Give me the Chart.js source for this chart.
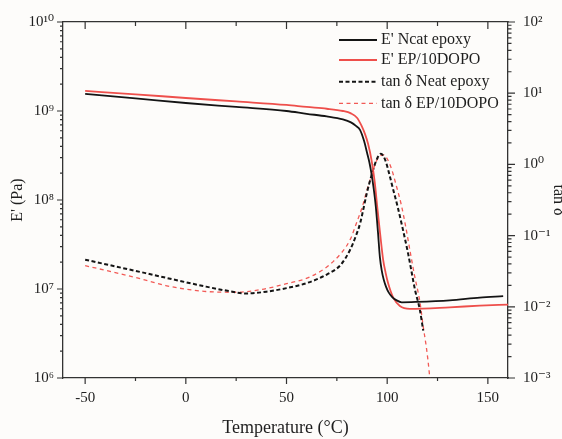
<!DOCTYPE html>
<html>
<head>
<meta charset="utf-8">
<script src="https://cdn.jsdelivr.net/npm/chart.js@4.4.1/dist/chart.umd.min.js"></script>
<style>
  html, body { margin: 0; padding: 0; overflow: hidden; background: #fdfcfa; }
  #wrap { width: 574px; height: 439px; }
</style>
</head>
<body>
<div id="wrap"><canvas id="dma" width="574" height="439"></canvas></div>
<script>
// Storage modulus E' (Pa) against temperature (°C)
const tempNeatE = [-50, -25, 0, 25, 50, 60, 70, 78, 82, 84.5, 86.5, 88.5, 90, 91.2, 92.3, 93.3, 94.3, 95.4, 96.4, 97.3, 98.3, 99.5, 100.8, 102.5, 104.5, 107.2, 114.6, 131, 146, 157.6];
const storageNeat = [1.56e9, 1.39e9, 1.23e9, 1.11e9, 1.0e9, 9.3e8, 8.7e8, 8.05e8, 7.45e8, 6.8e8, 6.14e8, 4.62e8, 3.39e8, 2.62e8, 1.92e8, 1.34e8, 8.62e7, 4.41e7, 2.25e7, 1.61e7, 1.27e7, 1.05e7, 9.1e6, 8.11e6, 7.5e6, 7.09e6, 7.16e6, 7.46e6, 8.0e6, 8.3e6];

const tempDopoE = [-50, -25, 0, 25, 50, 60, 70, 78, 82, 85, 87.3, 89, 90.5, 92.2, 93.8, 95.2, 96.6, 98, 99.2, 100.5, 101.8, 103, 106.3, 111.3, 131, 146, 160];
const storageDopo = [1.68e9, 1.54e9, 1.40e9, 1.28e9, 1.17e9, 1.11e9, 1.06e9, 1.0e9, 9.4e8, 8.4e8, 6.8e8, 5.5e8, 4.28e8, 2.83e8, 1.6e8, 7.8e7, 3.97e7, 2.13e7, 1.53e7, 1.15e7, 9.35e6, 8.0e6, 6.43e6, 5.97e6, 6.22e6, 6.5e6, 6.68e6];

// Loss factor tan δ against temperature (°C)
const tempNeatTan = [-50, -35, -20, -5, 10, 20, 30, 40, 50, 60, 70, 77, 81.6, 84.5, 86.6, 88.1, 89.9, 92.3, 94.5, 96.8, 99, 101, 103, 105.2, 107.5, 110.5, 112, 113.8, 116.2, 117.9];
const tanNeat = [0.0459, 0.0369, 0.0297, 0.0238, 0.0192, 0.0169, 0.0154, 0.0163, 0.0183, 0.0215, 0.0284, 0.0391, 0.0634, 0.0998, 0.150, 0.231, 0.396, 0.715, 1.12, 1.41, 1.16, 0.738, 0.441, 0.254, 0.133, 0.054, 0.0322, 0.0174, 0.00914, 0.00463];

const tempDopoTan = [-50, -35, -20, -10, 0, 10, 25, 37, 50, 61.7, 73.3, 81.6, 85, 87.7, 90, 92.1, 94.5, 97, 98.4, 100, 102.3, 104, 107, 109.3, 111.5, 113.5, 116.3, 117.9, 119.6, 120.9, 121.4];
const tanDopo = [0.0378, 0.0302, 0.0237, 0.0199, 0.0177, 0.0164, 0.0160, 0.0174, 0.0211, 0.0263, 0.0435, 0.0877, 0.157, 0.257, 0.441, 0.676, 1.087, 1.34, 1.36, 1.20, 0.84, 0.57, 0.271, 0.129, 0.0575, 0.0283, 0.01146, 0.00528, 0.00251, 0.00119, 0.00081];

const seriesLabels = ["E' Ncat epoxy", "E' EP/10DOPO", "tan δ Neat epoxy", "tan δ EP/10DOPO"];

// Axis ticks
const tempTicks = [-50, -25, 0, 25, 50, 75, 100, 125, 150];
const modulusDecades = [6, 7, 8, 9, 10];
const tanDecades = [-3, -2, -1, 0, 1, 2];

const FONT = '"Liberation Serif", "DejaVu Serif", serif';
const INK = '#1e1e1e';
const AXIS = '#333333';

const SUP = { '0': '⁰', '1': '¹', '2': '²', '3': '³', '4': '⁴', '5': '⁵', '6': '⁶', '7': '⁷', '8': '⁸', '9': '⁹', '-': '⁻' };
const powLabel = e => '10' + String(e).split('').map(c => SUP[c]).join('');
const isPow10 = v => Math.abs(Math.log10(v) - Math.round(Math.log10(v))) < 1e-9;

function logTicks(decades) {
  const out = [];
  for (let i = 0; i < decades.length - 1; i++) {
    for (let m = 1; m <= 9; m++) out.push({ value: parseFloat((m * Math.pow(10, decades[i])).toPrecision(12)) });
  }
  out.push({ value: Math.pow(10, decades[decades.length - 1]) });
  return out;
}

const pts = (xs, ys) => xs.map((x, i) => ({ x, y: ys[i] }));

// Frame: top edge line plus major/minor tick marks on all four sides
const frameTicks = {
  id: 'frameTicks',
  afterDraw(chart) {
    const { ctx, chartArea: a, scales } = chart;
    const w = 1.3;
    const top = Math.round(a.top - w / 2) + w / 2;
    ctx.save();
    ctx.strokeStyle = AXIS;
    ctx.lineWidth = w;
    ctx.beginPath();
    ctx.moveTo(a.left - 0.7, top);
    ctx.lineTo(a.right + 0.7, top);
    ctx.stroke();
    ctx.lineWidth = 1.2;
    ctx.beginPath();
    scales.x.ticks.forEach(t => {
      const px = scales.x.getPixelForValue(t.value);
      const len = t.value % 50 === 0 ? 6 : 3;
      ctx.moveTo(px, a.bottom); ctx.lineTo(px, a.bottom + len);
      ctx.moveTo(px, a.top); ctx.lineTo(px, a.top + len + 1);
    });
    scales.y.ticks.forEach(t => {
      const py = scales.y.getPixelForValue(t.value);
      const len = isPow10(t.value) ? 6 : 3;
      ctx.moveTo(a.left, py); ctx.lineTo(a.left - len, py);
    });
    scales.y2.ticks.forEach(t => {
      const py = scales.y2.getPixelForValue(t.value);
      const len = isPow10(t.value) ? 7 : 3.5;
      ctx.moveTo(a.right, py); ctx.lineTo(a.right + len, py);
    });
    ctx.stroke();
    ctx.restore();
  }
};

// Legend in the upper right corner of the plot area
const legendBox = {
  id: 'legendBox',
  afterDatasetsDraw(chart) {
    const { ctx, chartArea: a } = chart;
    const x0 = a.right - 169, x1 = a.right - 131, tx = a.right - 127;
    const rows = [18, 38, 59.7, 81.3];
    chart.data.datasets.forEach((ds, i) => {
      const y = a.top + rows[i];
      ctx.save();
      ctx.strokeStyle = ds.borderColor;
      ctx.lineWidth = ds.borderWidth;
      ctx.setLineDash(ds.borderDash || []);
      ctx.beginPath();
      ctx.moveTo(x0, y);
      ctx.lineTo(x1, y);
      ctx.stroke();
      ctx.setLineDash([]);
      ctx.fillStyle = INK;
      ctx.font = '16px ' + FONT;
      ctx.textBaseline = 'middle';
      ctx.fillText(ds.label, tx, y);
      ctx.restore();
    });
  }
};

const tickFont = { family: FONT, size: 15 };
const hiddenTickMarks = { drawOnChartArea: false, drawTicks: true, tickColor: 'rgba(0,0,0,0)' };

new Chart(document.getElementById('dma'), {
  type: 'line',
  data: {
    datasets: [
      { label: seriesLabels[0], data: pts(tempNeatE, storageNeat), yAxisID: 'y', borderColor: '#141414', borderWidth: 1.8 },
      { label: seriesLabels[1], data: pts(tempDopoE, storageDopo), yAxisID: 'y', borderColor: '#ee4f4b', borderWidth: 1.8 },
      { label: seriesLabels[2], data: pts(tempNeatTan, tanNeat), yAxisID: 'y2', borderColor: '#141414', borderWidth: 2, borderDash: [4, 2.5] },
      { label: seriesLabels[3], data: pts(tempDopoTan, tanDopo), yAxisID: 'y2', borderColor: '#f25a56', borderWidth: 1.3, borderDash: [4, 3.5] }
    ]
  },
  options: {
    responsive: false,
    devicePixelRatio: 1,
    animation: false,
    layout: { padding: { top: 22, left: 0, right: 0, bottom: 0 } },
    elements: {
      point: { radius: 0 },
      line: { cubicInterpolationMode: 'monotone', fill: false }
    },
    plugins: { legend: { display: false }, tooltip: { enabled: false } },
    scales: {
      x: {
        type: 'linear', position: 'bottom', min: -61, max: 160,
        afterBuildTicks: s => { s.ticks = tempTicks.map(v => ({ value: v })); },
        afterFit: s => { s.height = 61; },
        ticks: { autoSkip: false, maxRotation: 0, padding: 5, color: INK, font: tickFont,
                 callback: v => (v % 50 === 0 ? String(v) : '') },
        grid: { ...hiddenTickMarks, tickLength: 6 },
        border: { color: AXIS, width: 1.3 },
        title: { display: true, text: 'Temperature (°C)', color: INK, font: { family: FONT, size: 18 }, padding: { top: 0, bottom: 0 } }
      },
      y: {
        type: 'logarithmic', position: 'left', min: 1e6, max: 1e10,
        afterBuildTicks: s => { s.ticks = logTicks(modulusDecades); },
        afterFit: s => { s.width = 63; },
        ticks: { autoSkip: false, padding: 3, color: INK, font: tickFont,
                 callback: v => (isPow10(v) ? powLabel(Math.round(Math.log10(v))) : '') },
        grid: { ...hiddenTickMarks, tickLength: 6 },
        border: { color: AXIS, width: 1.3 },
        title: { display: true, text: "E' (Pa)", color: INK, font: { family: FONT, size: 16 }, padding: { top: 8, bottom: 0 } }
      },
      y2: {
        type: 'logarithmic', position: 'right', min: 1e-3, max: 1e2,
        afterBuildTicks: s => { s.ticks = logTicks(tanDecades); },
        afterFit: s => { s.width = 66; },
        ticks: { autoSkip: false, padding: 8, color: INK, font: tickFont,
                 callback: v => (isPow10(v) ? powLabel(Math.round(Math.log10(v))) : '') },
        grid: { ...hiddenTickMarks, tickLength: 7 },
        border: { color: AXIS, width: 1.3 },
        title: { display: true, text: 'tan δ', color: INK, font: { family: FONT, size: 16 }, padding: { top: 6, bottom: 0 } }
      }
    }
  },
  plugins: [frameTicks, legendBox]
});
</script>
</body>
</html>
